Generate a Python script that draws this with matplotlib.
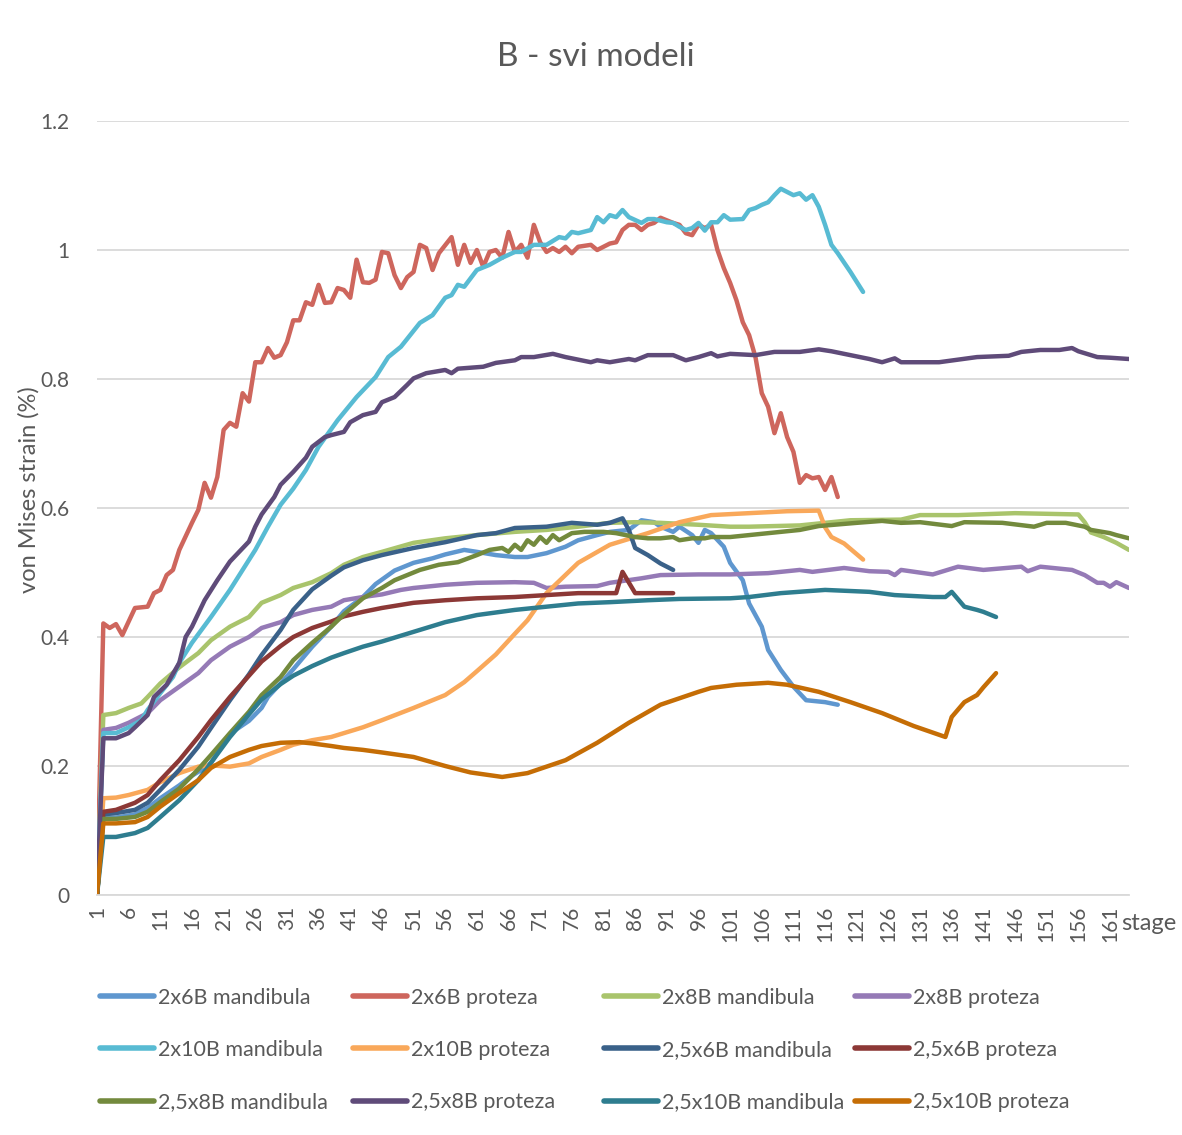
import numpy as np
import matplotlib
matplotlib.use("Agg")
import matplotlib.pyplot as plt

plt.rcParams['font.family'] = ['Lato', 'DejaVu Sans']

# --- data ---
s_2x6_m = [1, 2, 4, 7, 9, 11, 14, 16, 18, 19, 20, 22, 25, 27, 28, 30, 32, 35, 38, 40, 43, 45, 48, 51, 54,
           56, 59, 61, 64, 67, 69, 72, 75, 77, 80, 82, 85, 87, 89, 90, 92, 93, 95, 96, 97, 98, 100, 101,
           103, 104, 106, 107, 109, 111, 113, 116, 118]
v_2x6_m = [0, 0.12, 0.12, 0.125, 0.135, 0.15, 0.17, 0.185, 0.197, 0.205, 0.22, 0.25, 0.27, 0.29, 0.307,
           0.328, 0.35, 0.385, 0.416, 0.44, 0.462, 0.482, 0.503, 0.515, 0.522, 0.528, 0.535, 0.532, 0.527,
           0.524, 0.524, 0.53, 0.54, 0.55, 0.558, 0.563, 0.566, 0.581, 0.578, 0.571, 0.563, 0.571, 0.558,
           0.546, 0.566, 0.561, 0.54, 0.515, 0.488, 0.452, 0.416, 0.38, 0.349, 0.323, 0.302, 0.299, 0.295]

s_2x6_p = [1, 2, 3, 4, 5, 7, 9, 10, 11, 12, 13, 14, 16, 17, 18, 19, 20, 21, 22, 23, 24, 25, 26, 27, 28,
           29, 30, 31, 32, 33, 34, 35, 36, 37, 38, 39, 40, 41, 42, 43, 44, 45, 46, 47, 48, 49, 50, 51, 52,
           53, 54, 55, 57, 58, 59, 60, 61, 62, 63, 64, 65, 66, 67, 68, 69, 70, 71, 72, 73, 74, 75, 76, 77,
           79, 80, 82, 83, 84, 85, 86, 87, 88, 89, 90, 91, 92, 93, 94, 95, 96, 97, 98, 99, 100, 101, 102,
           103, 104, 105, 106, 107, 108, 109, 110, 111, 112, 113, 114, 115, 116, 117, 118]
v_2x6_p = [0, 0.421, 0.414, 0.42, 0.403, 0.445, 0.447, 0.468, 0.473, 0.496, 0.504, 0.535, 0.577, 0.597,
           0.639, 0.616, 0.648, 0.721, 0.732, 0.726, 0.778, 0.765, 0.826, 0.826, 0.848, 0.833, 0.837, 0.857,
           0.891, 0.891, 0.919, 0.915, 0.946, 0.918, 0.919, 0.941, 0.938, 0.926, 0.985, 0.95, 0.949, 0.954,
           0.997, 0.995, 0.961, 0.941, 0.958, 0.966, 1.008, 1.003, 0.969, 0.995, 1.02, 0.977, 1.008, 0.98,
           1.0, 0.974, 0.997, 1.0, 0.988, 1.028, 0.997, 1.008, 0.988, 1.039, 1.012, 0.997, 1.003, 0.997,
           1.005, 0.995, 1.005, 1.008, 1.0, 1.01, 1.012, 1.031, 1.039, 1.039, 1.031, 1.039, 1.042, 1.05,
           1.046, 1.042, 1.039, 1.026, 1.023, 1.039, 1.034, 1.039, 1.0, 0.972, 0.949, 0.922, 0.888, 0.868,
           0.834, 0.778, 0.757, 0.716, 0.747, 0.71, 0.687, 0.639, 0.651, 0.646, 0.648, 0.628, 0.648, 0.617]

s_2x8_m = [1, 2, 4, 6, 8, 9, 11, 14, 17, 19, 22, 25, 27, 30, 32, 35, 38, 40, 43, 46, 51, 56, 61, 67, 72,
           77, 82, 86, 90, 96, 101, 104, 112, 120, 128, 131, 137, 146, 151, 156, 157, 158, 160, 162, 164]
v_2x8_m = [0, 0.279, 0.282, 0.29, 0.297, 0.307, 0.328, 0.353, 0.375, 0.395, 0.416, 0.431, 0.453, 0.465,
           0.476, 0.485, 0.499, 0.512, 0.524, 0.532, 0.546, 0.553, 0.558, 0.563, 0.566, 0.571, 0.577, 0.578,
           0.577, 0.574, 0.571, 0.571, 0.573, 0.581, 0.582, 0.589, 0.589, 0.592, 0.591, 0.590, 0.578, 0.562,
           0.555, 0.546, 0.535]

s_2x8_p = [1, 2, 4, 6, 9, 11, 14, 17, 19, 22, 25, 27, 30, 32, 35, 38, 40, 43, 46, 49, 51, 56, 61, 67, 70,
           72, 75, 80, 82, 87, 90, 96, 101, 107, 112, 114, 119, 123, 126, 127, 128, 133, 137, 141, 147, 148,
           150, 155, 157, 159, 160, 161, 162, 164]
v_2x8_p = [0, 0.256, 0.259, 0.267, 0.282, 0.302, 0.323, 0.344, 0.364, 0.385, 0.4, 0.414, 0.423, 0.434,
           0.442, 0.447, 0.457, 0.462, 0.466, 0.473, 0.476, 0.481, 0.484, 0.485, 0.484, 0.476, 0.478, 0.479,
           0.484, 0.491, 0.496, 0.497, 0.497, 0.499, 0.504, 0.501, 0.507, 0.502, 0.501, 0.496, 0.504, 0.497,
           0.509, 0.504, 0.509, 0.502, 0.509, 0.504, 0.496, 0.484, 0.484, 0.478, 0.485, 0.476]

s_2x10_m = [1, 2, 4, 6, 8, 9, 11, 13, 14, 16, 19, 22, 24, 26, 28, 30, 32, 34, 36, 39, 42, 45, 47, 49, 52,
            54, 56, 57, 58, 59, 61, 63, 65, 67, 68, 70, 72, 74, 75, 76, 77, 79, 80, 81, 82, 83, 84, 85, 87,
            88, 89, 91, 92, 93, 94, 95, 96, 97, 98, 99, 100, 101, 103, 104, 105, 106, 107, 108, 109, 110,
            111, 112, 113, 114, 115, 116, 117, 118, 120, 122]
v_2x10_m = [0, 0.251, 0.251, 0.26, 0.271, 0.287, 0.313, 0.338, 0.36, 0.391, 0.431, 0.473, 0.504, 0.535,
            0.571, 0.605, 0.63, 0.659, 0.695, 0.736, 0.772, 0.803, 0.834, 0.85, 0.887, 0.899, 0.926, 0.93,
            0.946, 0.943, 0.969, 0.977, 0.988, 0.997, 0.997, 1.008, 1.008, 1.02, 1.018, 1.028, 1.026, 1.031,
            1.051, 1.043, 1.054, 1.051, 1.062, 1.051, 1.042, 1.048, 1.048, 1.043, 1.042, 1.036, 1.031,
            1.034, 1.042, 1.03, 1.043, 1.043, 1.054, 1.047, 1.048, 1.062, 1.065, 1.07, 1.074, 1.085, 1.095,
            1.09, 1.085, 1.088, 1.078, 1.085, 1.067, 1.039, 1.008, 0.995, 0.966, 0.935]

s_2x10_p = [1, 2, 4, 6, 9, 11, 14, 17, 19, 22, 25, 27, 30, 32, 35, 38, 40, 43, 46, 51, 56, 59, 61, 64, 67,
            69, 72, 77, 82, 88, 93, 98, 104, 110, 115, 116, 117, 119, 122]
v_2x10_p = [0, 0.15, 0.151, 0.155, 0.163, 0.175, 0.189, 0.199, 0.201, 0.199, 0.204, 0.214, 0.225, 0.233,
            0.24, 0.245, 0.251, 0.26, 0.271, 0.29, 0.31, 0.33, 0.347, 0.373, 0.405, 0.426, 0.468, 0.515,
            0.543, 0.561, 0.578, 0.589, 0.592, 0.595, 0.596, 0.57, 0.555, 0.545, 0.52]

s_25x6_m = [1, 2, 4, 7, 9, 11, 14, 17, 19, 22, 25, 27, 30, 32, 35, 38, 40, 43, 46, 51, 56, 61, 64, 67, 72,
            76, 80, 82, 84, 85, 86, 88, 90, 92]
v_25x6_m = [0, 0.125, 0.127, 0.132, 0.143, 0.163, 0.194, 0.23, 0.259, 0.302, 0.342, 0.372, 0.411, 0.442,
            0.474, 0.495, 0.508, 0.519, 0.527, 0.538, 0.547, 0.558, 0.561, 0.569, 0.571, 0.577, 0.574,
            0.577, 0.584, 0.566, 0.538, 0.527, 0.514, 0.504]

s_25x6_p = [1, 2, 4, 7, 9, 11, 14, 17, 19, 22, 25, 27, 30, 32, 35, 38, 40, 43, 46, 51, 56, 61, 67, 72, 77,
            83, 84, 86, 92]
v_25x6_p = [0, 0.129, 0.132, 0.143, 0.155, 0.178, 0.209, 0.245, 0.271, 0.307, 0.34, 0.362, 0.386, 0.4,
            0.414, 0.424, 0.432, 0.439, 0.445, 0.453, 0.457, 0.46, 0.462, 0.465, 0.468, 0.468, 0.501, 0.468,
            0.468]

s_25x8_m = [1, 2, 4, 7, 9, 11, 14, 17, 19, 22, 25, 27, 30, 32, 35, 38, 40, 43, 46, 48, 50, 52, 55, 58, 61,
            63, 65, 66, 67, 68, 69, 70, 71, 72, 73, 74, 76, 78, 81, 83, 86, 88, 90, 92, 93, 95, 97, 98, 101,
            106, 112, 115, 121, 125, 128, 131, 136, 138, 144, 149, 151, 154, 157, 158, 161, 162, 164]
v_25x8_m = [0, 0.118, 0.118, 0.121, 0.129, 0.144, 0.165, 0.195, 0.217, 0.251, 0.284, 0.31, 0.338, 0.364,
            0.391, 0.416, 0.435, 0.46, 0.476, 0.488, 0.496, 0.504, 0.512, 0.516, 0.527, 0.535, 0.538, 0.532,
            0.543, 0.535, 0.55, 0.543, 0.555, 0.546, 0.558, 0.55, 0.561, 0.563, 0.563, 0.561, 0.555, 0.553,
            0.553, 0.555, 0.55, 0.553, 0.553, 0.555, 0.555, 0.56, 0.566, 0.572, 0.577, 0.58, 0.577, 0.578,
            0.572, 0.578, 0.577, 0.571, 0.577, 0.577, 0.571, 0.566, 0.561, 0.558, 0.553]

s_25x8_p = [1, 2, 4, 6, 7, 9, 10, 12, 14, 15, 16, 18, 20, 22, 25, 26, 27, 29, 30, 32, 34, 35, 37, 38, 40,
            41, 43, 45, 46, 48, 50, 51, 53, 56, 57, 58, 62, 64, 67, 68, 70, 73, 75, 79, 80, 82, 85, 86, 88,
            92, 94, 96, 98, 99, 101, 105, 108, 112, 115, 117, 120, 123, 125, 127, 128, 134, 140, 145, 147,
            150, 153, 155, 156, 159, 161, 164]
v_25x8_p = [0, 0.243, 0.243, 0.251, 0.26, 0.279, 0.307, 0.326, 0.36, 0.4, 0.416, 0.457, 0.488, 0.517,
            0.548, 0.571, 0.59, 0.617, 0.636, 0.656, 0.678, 0.695, 0.71, 0.713, 0.718, 0.733, 0.744, 0.749,
            0.764, 0.772, 0.791, 0.801, 0.809, 0.814, 0.809, 0.816, 0.819, 0.825, 0.829, 0.834, 0.834,
            0.839, 0.834, 0.826, 0.829, 0.826, 0.831, 0.829, 0.837, 0.837, 0.829, 0.834, 0.84, 0.835, 0.839,
            0.837, 0.842, 0.842, 0.846, 0.843, 0.837, 0.831, 0.826, 0.832, 0.826, 0.826, 0.834, 0.836,
            0.842, 0.845, 0.845, 0.848, 0.843, 0.834, 0.833, 0.831]

s_25x10_m = [1, 2, 4, 7, 9, 11, 14, 17, 19, 22, 25, 27, 30, 32, 35, 38, 40, 43, 46, 51, 56, 61, 67, 72,
             77, 82, 88, 93, 101, 104, 109, 116, 123, 127, 133, 135, 136, 138, 140, 141, 143]
v_25x10_m = [0, 0.09, 0.09, 0.096, 0.104, 0.121, 0.147, 0.178, 0.205, 0.245, 0.28, 0.303, 0.327, 0.34,
             0.355, 0.368, 0.375, 0.385, 0.393, 0.408, 0.423, 0.434, 0.442, 0.447, 0.452, 0.454, 0.457,
             0.459, 0.46, 0.462, 0.468, 0.473, 0.47, 0.465, 0.462, 0.462, 0.47, 0.447, 0.442, 0.439, 0.431]

s_25x10_p = [1, 2, 4, 7, 9, 11, 14, 17, 19, 22, 25, 27, 30, 33, 35, 38, 40, 43, 46, 51, 56, 60, 65, 69,
             75, 80, 85, 90, 96, 98, 102, 107, 110, 115, 120, 125, 130, 135, 136, 138, 140, 141, 143]
v_25x10_p = [0, 0.111, 0.111, 0.113, 0.121, 0.137, 0.158, 0.178, 0.197, 0.214, 0.225, 0.231, 0.236, 0.237,
             0.235, 0.231, 0.228, 0.225, 0.221, 0.214, 0.2, 0.19, 0.183, 0.189, 0.209, 0.236, 0.267,
             0.295, 0.315, 0.321, 0.326, 0.329, 0.326, 0.315, 0.299, 0.282, 0.262, 0.245, 0.276, 0.299,
             0.31, 0.322, 0.344]

names = ['2x6B mandibula', '2x6B proteza', '2x8B mandibula', '2x8B proteza',
         '2x10B mandibula', '2x10B proteza', '2,5x6B mandibula', '2,5x6B proteza',
         '2,5x8B mandibula', '2,5x8B proteza', '2,5x10B mandibula', '2,5x10B proteza']
stages = [s_2x6_m, s_2x6_p, s_2x8_m, s_2x8_p, s_2x10_m, s_2x10_p,
          s_25x6_m, s_25x6_p, s_25x8_m, s_25x8_p, s_25x10_m, s_25x10_p]
values = [v_2x6_m, v_2x6_p, v_2x8_m, v_2x8_p, v_2x10_m, v_2x10_p,
          v_25x6_m, v_25x6_p, v_25x8_m, v_25x8_p, v_25x10_m, v_25x10_p]
colors = ['#5F97CF', '#CE665D', '#A9C46C', '#957AB6', '#58BBD3', '#F9A85A',
          '#3A6189', '#8C3836', '#738A3D', '#5F4B79', '#2E7D8F', '#C56D05']

n_stages = 164
xtick_pos = list(range(1, 162, 5))
ytick_pos = [0, 0.2, 0.4, 0.6, 0.8, 1.0, 1.2]
ytick_lab = ['0', '0.2', '0.4', '0.6', '0.8', '1', '1.2']

W, H = 1182, 1135
fig = plt.figure(figsize=(W / 100, H / 100), dpi=100)
ax = fig.add_axes([97 / W, 1 - 895 / H, (1129 - 97) / W, (895 - 121) / H])

txt = '#595959'
lines = []
for s, v, c, n in zip(stages, values, colors, names):
    ln, = ax.plot(s, v, color=c, lw=3.2, label=n, solid_capstyle='round', solid_joinstyle='round')
    lines.append(ln)

ax.set_xlim(1, n_stages)
ax.set_ylim(0, 1.2)
ax.set_yticks(ytick_pos)
ax.set_yticklabels(ytick_lab)
ax.set_xticks(xtick_pos)
ax.set_xticklabels([str(t) for t in xtick_pos], rotation=90)
ax.tick_params(axis='y', length=0, pad=20, labelsize=15, labelcolor=txt)
ax.tick_params(axis='x', length=0, pad=8, labelsize=15, labelcolor=txt)
ax.grid(axis='y', color='#D9D9D9', lw=1.3)
ax.set_axisbelow(True)
for sp in ['top', 'right', 'left']:
    ax.spines[sp].set_visible(False)
ax.spines['bottom'].set_color('#D9D9D9')
ax.spines['bottom'].set_linewidth(1.3)

fig.text(596 / W, 1 - 57 / H, 'B - svi modeli', ha='center', va='center', fontsize=24, color=txt)
fig.text(29 / W, 1 - 490 / H, 'von Mises strain (%)', ha='center', va='center', rotation=90,
         fontsize=17, color=txt)
fig.text(1121 / W, 1 - 923 / H, 'stage', ha='left', va='center', fontsize=17, color=txt)

# legend: 4 columns, 3 rows, filled row by row
col_x = [100, 353, 604, 855]
for j in range(4):
    hs = [lines[j + 4 * r] for r in range(3)]
    leg = fig.legend(hs, [h.get_label() for h in hs], loc='center left',
                     bbox_to_anchor=(col_x[j] / W, 1 - 1050 / H), frameon=False,
                     fontsize=15.5, handlelength=2.5, handletextpad=0.2, labelspacing=1.5,
                     borderpad=0, borderaxespad=0)
    for t in leg.get_texts():
        t.set_color(txt)
    for lh in leg.get_lines():
        lh.set_linewidth(4)

fig.savefig('out.png', dpi=100)
